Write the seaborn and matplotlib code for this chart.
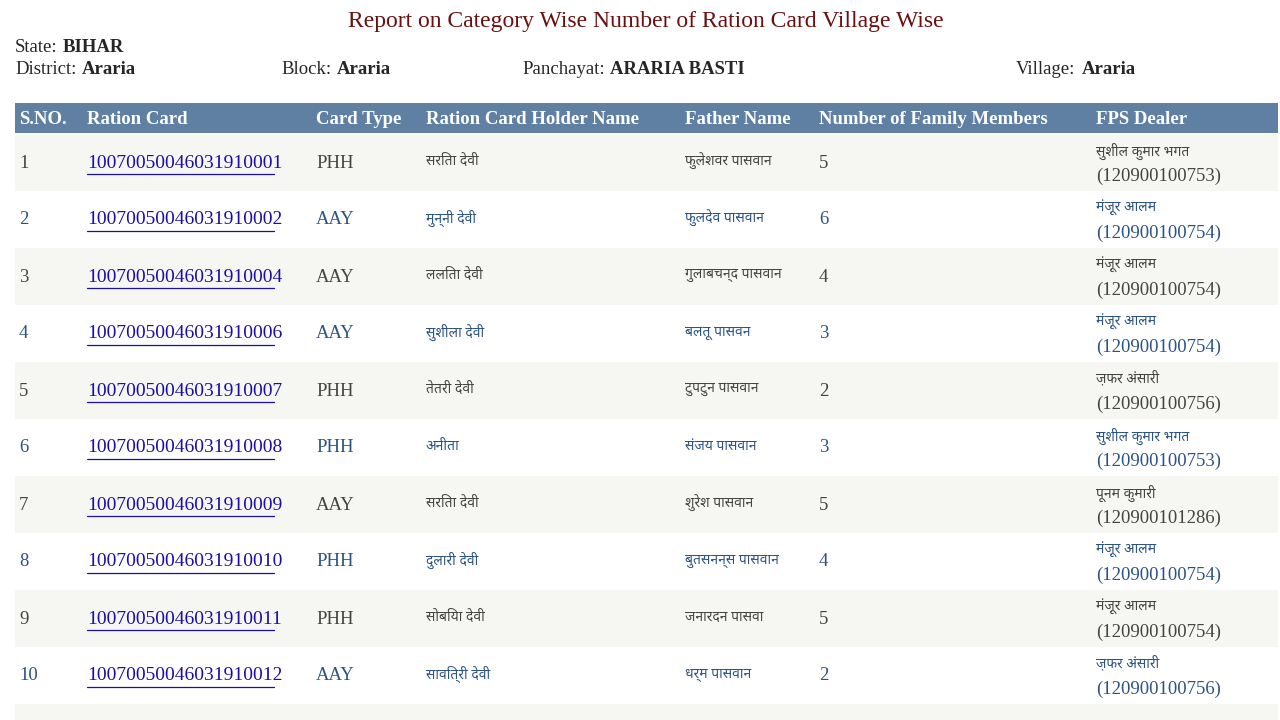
import matplotlib
matplotlib.use("Agg")
import matplotlib.pyplot as plt
import seaborn as sns
from matplotlib import font_manager

sns.set_style("white")
serif = ["Liberation Serif", "DejaVu Serif"]
avail = {f.name for f in font_manager.fontManager.ttflist}
deva = [f for f in ["Noto Sans Devanagari", "Noto Serif Devanagari", "Lohit Devanagari", "Mangal"] if f in avail]
hindi = deva + ["Liberation Serif", "DejaVu Sans"]
plt.rcParams['font.family'] = serif

title = "Report on Category Wise Number of Ration Card Village Wise"
headers = ["S.NO.", "Ration Card", "Card Type", "Ration Card Holder Name", "Father Name", "Number of Family Members", "FPS Dealer"]
sno = [str(i) for i in range(1, 11)]
cards = ["10070050046031910001", "10070050046031910002", "10070050046031910004", "10070050046031910006",
         "10070050046031910007", "10070050046031910008", "10070050046031910009", "10070050046031910010",
         "10070050046031910011", "10070050046031910012"]
card_type = ["PHH", "AAY", "AAY", "AAY", "PHH", "PHH", "AAY", "PHH", "PHH", "AAY"]
holder = ["सरिता देवी", "मुन्नी देवी", "ललिता देवी", "सुशीला देवी", "तेतरी देवी", "अनीता", "सरिता देवी", "दुलारी देवी", "सोबिया देवी", "सावित्री देवी"]
father = ["फुलेशवर पासवान", "फुलदेव पासवान", "गुलाबचन्द पासवान", "बलतू पासवन", "टुपटुन पासवान", "संजय पासवान", "शुरेश पासवान", "बुतसनन्स पासवान", "जनारदन पासवा", "धर्म पासवान"]
members = [5, 6, 4, 3, 2, 3, 5, 4, 5, 2]
dealer = ["सुशील कुमार भगत", "मंज़ूर आलम", "मंज़ूर आलम", "मंज़ूर आलम", "ज़फर अंसारी", "सुशील कुमार भगत", "पूनम कुमारी", "मंज़ूर आलम", "मंज़ूर आलम", "ज़फर अंसारी"]
dealer_id = ["120900100753", "120900100754", "120900100754", "120900100754", "120900100756", "120900100753", "120900101286", "120900100754", "120900100754", "120900100756"]

fig = plt.figure(figsize=(12.8, 7.2), dpi=100)
ax = fig.add_axes([0, 0, 1, 1])
ax.set_xlim(0, 1280); ax.set_ylim(720, 0); ax.axis("off")

ax.text(646, 22, title, ha="center", va="center", fontsize=17, color="#6b0f0f")
ax.text(15, 47, "State:", fontsize=13.5, va="center")
ax.text(63, 47, "BIHAR", fontsize=13.5, va="center", fontweight="bold")
for x, lab, xv, val in [(15, "District:", 82, "Araria"), (281, "Block:", 337, "Araria"),
                        (522, "Panchayat:", 610, "ARARIA BASTI"), (1016, "Village:", 1082, "Araria")]:
    ax.text(x, 69, lab, fontsize=13.5, va="center")
    ax.text(xv, 69, val, fontsize=13.5, va="center", fontweight="bold")

ax.add_patch(plt.Rectangle((15, 103), 1263, 30, color="#5f7fa3", lw=0))
colx = [19, 87, 316, 426, 685, 819, 1096]
for x, h in zip(colx, headers):
    ax.text(x, 119, h, color="white", fontsize=13.5, fontweight="bold", va="center")

rh = 57
for i in range(11):
    y0 = 134 + rh * i
    if i % 2 == 0:
        ax.add_patch(plt.Rectangle((15, y0), 1263, rh, color="#f6f6f2", lw=0))
for i in range(10):
    yc = 134 + rh * i + 29
    c = "#444444" if i % 2 == 0 else "#2b5384"
    ax.text(19, yc, sno[i], fontsize=13.5, color=c, va="center")
    ax.text(87, yc, cards[i], fontsize=14, color="#1a0dab", va="center")
    ax.plot([87, 274], [yc + 11, yc + 11], color="#1a0dab", lw=0.9)
    ax.text(316, yc, card_type[i], fontsize=13.5, color=c, va="center")
    ax.text(426, yc - 2, holder[i], fontsize=10, color=c, va="center", family=hindi)
    ax.text(685, yc - 2, father[i], fontsize=10, color=c, va="center", family=hindi)
    ax.text(819, yc, str(members[i]), fontsize=13.5, color=c, va="center")
    ax.text(1096, yc - 12, dealer[i], fontsize=10, color=c, va="center", family=hindi)
    ax.text(1096, yc + 13, "(" + dealer_id[i] + ")", fontsize=13.5, color=c, va="center")

fig.savefig("out.png", dpi=100)
